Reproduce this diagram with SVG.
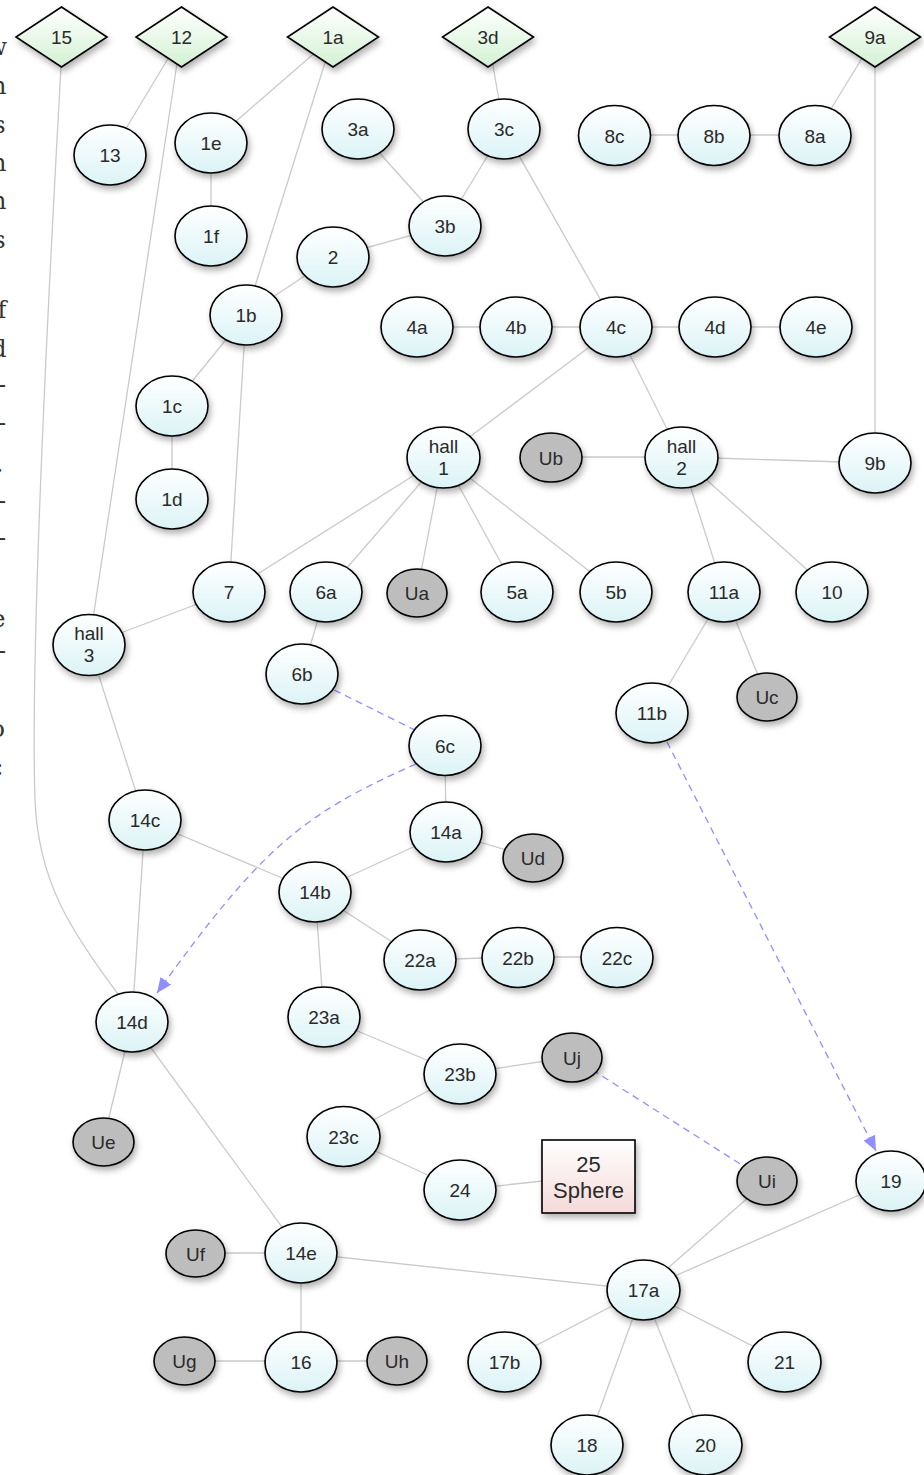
<svg xmlns="http://www.w3.org/2000/svg" width="924" height="1475" viewBox="0 0 924 1475">
<defs>
<linearGradient id="gc" x1="0" y1="0" x2="0" y2="1"><stop offset="0" stop-color="#ffffff"/><stop offset="1" stop-color="#dbf3f6"/></linearGradient>
<linearGradient id="gg" x1="0" y1="0" x2="0" y2="1"><stop offset="0" stop-color="#ffffff"/><stop offset="1" stop-color="#d3f1d3"/></linearGradient>
<linearGradient id="gp" x1="0" y1="0" x2="0" y2="1"><stop offset="0" stop-color="#ffffff"/><stop offset="1" stop-color="#f5d9d9"/></linearGradient>
<filter id="sh" x="-30%" y="-30%" width="160%" height="170%"><feDropShadow dx="2" dy="4" stdDeviation="3" flood-color="#000" flood-opacity="0.3"/></filter>
<marker id="ar" viewBox="0 0 15 13" refX="15" refY="6.5" markerWidth="15" markerHeight="13" markerUnits="userSpaceOnUse" orient="auto"><path d="M0,0 L15,6.5 L0,13 Z" fill="#8f8fff"/></marker>
</defs>
<style>
.e{fill:url(#gc);stroke:#000;stroke-width:1.6;filter:url(#sh)}
.u{fill:#bdbdbd;stroke:#000;stroke-width:1.6;filter:url(#sh)}
.d{fill:url(#gg);stroke:#000;stroke-width:1.6;filter:url(#sh)}
.r{fill:url(#gp);stroke:#000;stroke-width:1.6;filter:url(#sh)}
text{font-family:"Liberation Sans",Arial,sans-serif;font-size:19px;fill:#2a2a2a;text-anchor:middle}
.big{font-size:22px}
.frag{font-family:"DejaVu Serif","Liberation Serif",serif;font-size:24px;fill:#333;text-anchor:end}
.c line,.c path{stroke:#cacaca;stroke-width:1.3;fill:none}
.c .dash{stroke:#8f8fff;stroke-dasharray:7,5}
</style>
<g id="margin-text">
<text class="frag" x="7" y="55">w</text>
<text class="frag" x="6.5" y="94">n</text>
<text class="frag" x="5.5" y="133">s</text>
<text class="frag" x="6.5" y="171">n</text>
<text class="frag" x="6.5" y="209">n</text>
<text class="frag" x="5.5" y="248">s</text>
<text class="frag" x="6.5" y="318">f</text>
<text class="frag" x="6.5" y="357">d</text>
<text class="frag" x="6" y="393">-</text>
<text class="frag" x="6" y="431">-</text>
<text class="frag" x="3.5" y="472">.</text>
<text class="frag" x="6" y="509">-</text>
<text class="frag" x="6" y="546">-</text>
<text class="frag" x="5.5" y="627">e</text>
<text class="frag" x="6" y="659">-</text>
<text class="frag" x="5" y="737">o</text>
<text class="frag" x="3.5" y="775">:</text>
</g>
<g id="connectors" class="c">
<line x1="181" y1="37" x2="110" y2="155"/>
<line x1="181" y1="37" x2="89" y2="645"/>
<path d="M61 67 C48 300 30 650 35 800 C38 880 70 930 118 994"/>
<line x1="333" y1="37" x2="211" y2="143"/>
<line x1="333" y1="37" x2="246" y2="315"/>
<line x1="211" y1="143" x2="211" y2="236"/>
<line x1="488" y1="37" x2="504" y2="129"/>
<line x1="358" y1="129" x2="445" y2="226"/>
<line x1="504" y1="129" x2="445" y2="226"/>
<line x1="445" y1="226" x2="333" y2="257"/>
<line x1="333" y1="257" x2="246" y2="315"/>
<line x1="504" y1="129" x2="616" y2="327"/>
<line x1="875" y1="37" x2="815" y2="135"/>
<line x1="875" y1="37" x2="875" y2="463"/>
<line x1="614" y1="135" x2="815" y2="135"/>
<line x1="246" y1="315" x2="172" y2="406"/>
<line x1="246" y1="315" x2="229" y2="592"/>
<line x1="172" y1="406" x2="172" y2="499"/>
<line x1="417" y1="327" x2="816" y2="327"/>
<line x1="616" y1="327" x2="443" y2="457"/>
<line x1="616" y1="327" x2="681" y2="457"/>
<line x1="551" y1="457" x2="681" y2="457"/>
<line x1="681" y1="457" x2="875" y2="463"/>
<line x1="681" y1="457" x2="724" y2="592"/>
<line x1="681" y1="457" x2="832" y2="592"/>
<line x1="443" y1="457" x2="229" y2="592"/>
<line x1="443" y1="457" x2="326" y2="592"/>
<line x1="443" y1="457" x2="417" y2="593"/>
<line x1="443" y1="457" x2="517" y2="592"/>
<line x1="443" y1="457" x2="616" y2="592"/>
<line x1="229" y1="592" x2="89" y2="645"/>
<line x1="326" y1="592" x2="302" y2="674"/>
<line class="dash" x1="302" y1="674" x2="445" y2="745"/>
<path class="dash" d="M416 764 C300 815 260 850 157 993" marker-end="url(#ar)"/>
<line x1="445" y1="745" x2="446" y2="832"/>
<line x1="724" y1="592" x2="652" y2="713"/>
<line x1="724" y1="592" x2="767" y2="697"/>
<line class="dash" x1="667" y1="742" x2="876" y2="1151" marker-end="url(#ar)"/>
<line x1="89" y1="645" x2="145" y2="820"/>
<line x1="145" y1="820" x2="315" y2="892"/>
<line x1="145" y1="820" x2="132" y2="1022"/>
<line x1="446" y1="832" x2="315" y2="892"/>
<line x1="446" y1="832" x2="533" y2="858"/>
<line x1="315" y1="892" x2="420" y2="960"/>
<line x1="420" y1="960" x2="518" y2="957"/>
<line x1="518" y1="957" x2="617" y2="957"/>
<line x1="315" y1="892" x2="324" y2="1017"/>
<line x1="324" y1="1017" x2="460" y2="1074"/>
<line x1="460" y1="1074" x2="572" y2="1057"/>
<line x1="460" y1="1074" x2="343" y2="1136"/>
<line x1="343" y1="1136" x2="460" y2="1190"/>
<line x1="460" y1="1190" x2="588" y2="1176"/>
<line class="dash" x1="572" y1="1057" x2="767" y2="1181"/>
<line x1="132" y1="1022" x2="103" y2="1142"/>
<line x1="132" y1="1022" x2="301" y2="1253"/>
<line x1="196" y1="1253" x2="301" y2="1253"/>
<line x1="301" y1="1253" x2="301" y2="1362"/>
<line x1="184" y1="1361" x2="397" y2="1361"/>
<line x1="301" y1="1253" x2="643" y2="1290"/>
<line x1="767" y1="1181" x2="643" y2="1290"/>
<line x1="891" y1="1181" x2="643" y2="1290"/>
<line x1="643" y1="1290" x2="504" y2="1362"/>
<line x1="643" y1="1290" x2="587" y2="1445"/>
<line x1="643" y1="1290" x2="705" y2="1445"/>
<line x1="643" y1="1290" x2="784" y2="1362"/>
</g>
<g id="n15"><polygon class="d" points="61.5,7 107,37 61.5,67 16,37"/><text x="61.5" y="44">15</text></g>
<g id="n12"><polygon class="d" points="181.5,7 227,37 181.5,67 136,37"/><text x="181.5" y="44">12</text></g>
<g id="n1a"><polygon class="d" points="333,7 378.5,37 333,67 287.5,37"/><text x="333" y="44">1a</text></g>
<g id="n3d"><polygon class="d" points="488,7 533.5,37 488,67 442.5,37"/><text x="488" y="44">3d</text></g>
<g id="n9a"><polygon class="d" points="875,7 920.5,37 875,67 829.5,37"/><text x="875" y="44">9a</text></g>
<g id="n13"><ellipse class="e" cx="110" cy="155" rx="36" ry="30"/><text x="110" y="162">13</text></g>
<g id="n1e"><ellipse class="e" cx="211" cy="143" rx="36" ry="30"/><text x="211" y="150">1e</text></g>
<g id="n1f"><ellipse class="e" cx="211" cy="236" rx="36" ry="30"/><text x="211" y="243">1f</text></g>
<g id="n3a"><ellipse class="e" cx="358" cy="129" rx="36" ry="30"/><text x="358" y="136">3a</text></g>
<g id="n3c"><ellipse class="e" cx="504" cy="129" rx="36" ry="30"/><text x="504" y="136">3c</text></g>
<g id="n3b"><ellipse class="e" cx="445" cy="226" rx="36" ry="30"/><text x="445" y="233">3b</text></g>
<g id="n2"><ellipse class="e" cx="333" cy="257" rx="36" ry="30"/><text x="333" y="264">2</text></g>
<g id="n8c"><ellipse class="e" cx="614.5" cy="135.5" rx="36" ry="30"/><text x="614.5" y="142.5">8c</text></g>
<g id="n8b"><ellipse class="e" cx="714" cy="135.5" rx="36" ry="30"/><text x="714" y="142.5">8b</text></g>
<g id="n8a"><ellipse class="e" cx="815" cy="135.5" rx="36" ry="30"/><text x="815" y="142.5">8a</text></g>
<g id="n1b"><ellipse class="e" cx="246" cy="315" rx="36" ry="30"/><text x="246" y="322">1b</text></g>
<g id="n4a"><ellipse class="e" cx="417" cy="327" rx="36" ry="30"/><text x="417" y="334">4a</text></g>
<g id="n4b"><ellipse class="e" cx="516" cy="327" rx="36" ry="30"/><text x="516" y="334">4b</text></g>
<g id="n4c"><ellipse class="e" cx="616" cy="327" rx="36" ry="30"/><text x="616" y="334">4c</text></g>
<g id="n4d"><ellipse class="e" cx="715" cy="327" rx="36" ry="30"/><text x="715" y="334">4d</text></g>
<g id="n4e"><ellipse class="e" cx="816" cy="327" rx="36" ry="30"/><text x="816" y="334">4e</text></g>
<g id="n1c"><ellipse class="e" cx="172" cy="406" rx="36" ry="30"/><text x="172" y="413">1c</text></g>
<g id="n1d"><ellipse class="e" cx="172" cy="499" rx="36" ry="30"/><text x="172" y="506">1d</text></g>
<g id="hall1"><ellipse class="e" cx="443.5" cy="457.5" rx="36.5" ry="30.5"/><text x="443.5" y="453">hall</text><text x="443.5" y="475">1</text></g>
<g id="nUb"><ellipse class="u" cx="551" cy="457.5" rx="31" ry="24.5"/><text x="551" y="464.5">Ub</text></g>
<g id="hall2"><ellipse class="e" cx="681.5" cy="457.5" rx="36.5" ry="30.5"/><text x="681.5" y="453">hall</text><text x="681.5" y="475">2</text></g>
<g id="n9b"><ellipse class="e" cx="875" cy="463" rx="36" ry="30"/><text x="875" y="470">9b</text></g>
<g id="n7"><ellipse class="e" cx="229" cy="592" rx="36" ry="30"/><text x="229" y="599">7</text></g>
<g id="n6a"><ellipse class="e" cx="326" cy="592" rx="36" ry="30"/><text x="326" y="599">6a</text></g>
<g id="nUa"><ellipse class="u" cx="417" cy="593" rx="30" ry="24"/><text x="417" y="600">Ua</text></g>
<g id="n5a"><ellipse class="e" cx="517" cy="592" rx="36" ry="30"/><text x="517" y="599">5a</text></g>
<g id="n5b"><ellipse class="e" cx="616" cy="592" rx="36" ry="30"/><text x="616" y="599">5b</text></g>
<g id="n11a"><ellipse class="e" cx="724" cy="592" rx="36" ry="30"/><text x="724" y="599">11a</text></g>
<g id="n10"><ellipse class="e" cx="832" cy="592" rx="36" ry="30"/><text x="832" y="599">10</text></g>
<g id="hall3"><ellipse class="e" cx="89" cy="645" rx="36" ry="30.5"/><text x="89" y="640">hall</text><text x="89" y="662">3</text></g>
<g id="n6b"><ellipse class="e" cx="302" cy="674" rx="36" ry="30"/><text x="302" y="681">6b</text></g>
<g id="nUc"><ellipse class="u" cx="767" cy="697" rx="30" ry="24"/><text x="767" y="704">Uc</text></g>
<g id="n11b"><ellipse class="e" cx="652" cy="713" rx="36" ry="30"/><text x="652" y="720">11b</text></g>
<g id="n6c"><ellipse class="e" cx="445" cy="745.5" rx="36" ry="30"/><text x="445" y="752.5">6c</text></g>
<g id="n14c"><ellipse class="e" cx="145" cy="820" rx="36" ry="30"/><text x="145" y="827">14c</text></g>
<g id="n14a"><ellipse class="e" cx="446" cy="832" rx="36" ry="30"/><text x="446" y="839">14a</text></g>
<g id="nUd"><ellipse class="u" cx="533" cy="858" rx="30" ry="24"/><text x="533" y="865">Ud</text></g>
<g id="n14b"><ellipse class="e" cx="315" cy="892" rx="36" ry="30"/><text x="315" y="899">14b</text></g>
<g id="n22a"><ellipse class="e" cx="420" cy="960" rx="36" ry="30"/><text x="420" y="967">22a</text></g>
<g id="n22b"><ellipse class="e" cx="518" cy="957.5" rx="36" ry="30"/><text x="518" y="964.5">22b</text></g>
<g id="n22c"><ellipse class="e" cx="617" cy="957.5" rx="36" ry="30"/><text x="617" y="964.5">22c</text></g>
<g id="n14d"><ellipse class="e" cx="132" cy="1022" rx="36" ry="30"/><text x="132" y="1029">14d</text></g>
<g id="n23a"><ellipse class="e" cx="324" cy="1017" rx="36" ry="30"/><text x="324" y="1024">23a</text></g>
<g id="nUj"><ellipse class="u" cx="572" cy="1057.5" rx="30" ry="24.5"/><text x="572" y="1064.5">Uj</text></g>
<g id="n23b"><ellipse class="e" cx="460" cy="1074" rx="36" ry="30"/><text x="460" y="1081">23b</text></g>
<g id="n23c"><ellipse class="e" cx="343.5" cy="1136.5" rx="36.5" ry="30"/><text x="343.5" y="1143.5">23c</text></g>
<g id="nUe"><ellipse class="u" cx="103.5" cy="1142" rx="30.5" ry="24"/><text x="103.5" y="1149">Ue</text></g>
<g id="n25"><rect class="r" x="542" y="1140" width="93" height="73"/><text class="big" x="588.5" y="1172">25</text><text class="big" x="588.5" y="1198">Sphere</text></g>
<g id="n24"><ellipse class="e" cx="460" cy="1190" rx="36" ry="30"/><text x="460" y="1197">24</text></g>
<g id="nUi"><ellipse class="u" cx="767" cy="1181" rx="30" ry="24"/><text x="767" y="1188">Ui</text></g>
<g id="n19"><ellipse class="e" cx="891" cy="1181" rx="35" ry="30"/><text x="891" y="1188">19</text></g>
<g id="nUf"><ellipse class="u" cx="195.5" cy="1253.5" rx="29.5" ry="23.5"/><text x="195.5" y="1260.5">Uf</text></g>
<g id="n14e"><ellipse class="e" cx="301" cy="1253" rx="36" ry="30"/><text x="301" y="1260">14e</text></g>
<g id="n17a"><ellipse class="e" cx="643.5" cy="1290" rx="36.5" ry="30"/><text x="643.5" y="1297">17a</text></g>
<g id="nUg"><ellipse class="u" cx="184.5" cy="1361" rx="30.5" ry="24"/><text x="184.5" y="1368">Ug</text></g>
<g id="n16"><ellipse class="e" cx="301" cy="1362" rx="36" ry="30"/><text x="301" y="1369">16</text></g>
<g id="nUh"><ellipse class="u" cx="397" cy="1361" rx="30" ry="24"/><text x="397" y="1368">Uh</text></g>
<g id="n17b"><ellipse class="e" cx="504.5" cy="1362" rx="36.5" ry="30"/><text x="504.5" y="1369">17b</text></g>
<g id="n21"><ellipse class="e" cx="784.5" cy="1362" rx="36.5" ry="30"/><text x="784.5" y="1369">21</text></g>
<g id="n18"><ellipse class="e" cx="587" cy="1445" rx="36" ry="30"/><text x="587" y="1452">18</text></g>
<g id="n20"><ellipse class="e" cx="705.5" cy="1445" rx="36.5" ry="30"/><text x="705.5" y="1452">20</text></g>
</svg>
